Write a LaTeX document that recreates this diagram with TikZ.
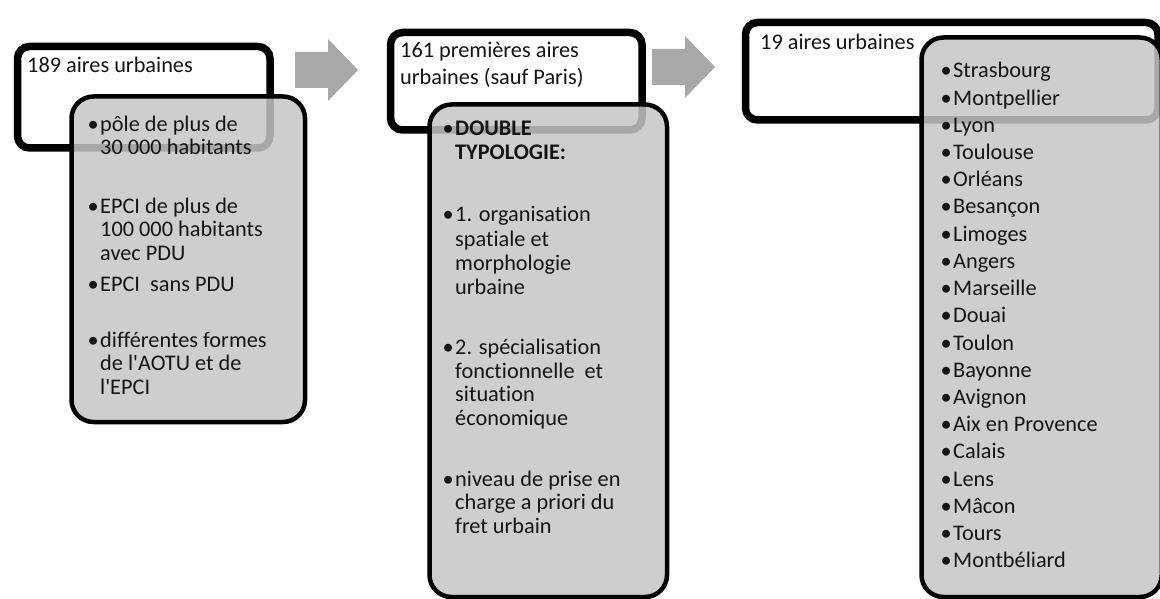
\documentclass[tikz,border=0pt]{standalone}
\usepackage{fontspec}
\setmainfont{Carlito}[Ligatures={TeXOff,NoCommon}]
\usetikzlibrary{shadows}
\definecolor{gfill}{RGB}{198,198,198}
\definecolor{afill}{RGB}{168,168,168}
\definecolor{txt}{RGB}{20,20,20}
\newcommand{\mybul}{\llap{•\hspace{1.5pt}}}
\begin{document}
\begin{tikzpicture}[x=1pt,y=-1pt,
  wbox/.style={draw=black, line width=7.5pt, fill=white, rounded corners=12pt,
    inner sep=0pt, anchor=north west,
    drop shadow={opacity=0.22, shadow xshift=2pt, shadow yshift=-3pt}},
  gbox/.style={draw=black, line width=4.5pt, fill=gfill, fill opacity=0.85,
    rounded corners=22pt, inner sep=0pt, anchor=north west},
  barrow/.style={fill=afill, draw=none},
  tline/.style={anchor=base west, inner sep=0pt, text=txt,
    font=\fontsize{22.3}{26}\selectfont}]
\useasboundingbox (0,0) rectangle (1160,599);
% boxes
\node[wbox, minimum width=252.5pt, minimum height=101.5pt] (w1) at (13.75,42.75) {};
\node[gbox, minimum width=233.5pt, minimum height=325.5pt] (g1) at (69.25,94.25) {};
\node[wbox, minimum width=251.5pt, minimum height=97.5pt] (w2) at (386.75,28.75) {};
\node[gbox, minimum width=237.5pt, minimum height=492.5pt] (g2) at (427.25,102.25) {};
\node[wbox, minimum width=412.5pt, minimum height=97.5pt] (w3) at (741.75,18.75) {};
\node[gbox, minimum width=240.25pt, minimum height=559.5pt] (g3) at (919.25,35.25) {};
% block arrows
\coordinate (a1) at (295,70);
\coordinate (a2) at (652,67);
\foreach \c in {a1,a2}
  \fill[barrow] (\c) ++(0,-18) -- ++(33,0) -- ++(0,-13) -- ++(30,31)
    -- ++(-30,31) -- ++(0,-13) -- ++(-33,0) -- cycle;
% titles
\node[tline] (h1) at (27,73) {189 aires urbaines};
\node[tline] (h2a) at (400,58) {161 premières aires};
\node[tline] (h2b) at (400,85) {urbaines (sauf Paris)};
\node[tline] (h3) at (760,50) {19 aires urbaines};
% grey box 1
\foreach \yy/\s [count=\i] in {
  131.5/{\mybul pôle de plus de},
  155/{30 000 habitants},
  213/{\mybul EPCI de plus de},
  236.5/{100 000 habitants},
  260/{avec PDU},
  291/{\mybul EPCI\ \ sans PDU},
  347/{\mybul différentes formes},
  370.5/{de l'AOTU et de},
  394/{l'EPCI}}
  \node[tline] (p1-\i) at (100,\yy) {\s};
% grey box 2
\foreach \yy/\s [count=\i] in {
  136/{\mybul\bfseries DOUBLE},
  160/{\bfseries TYPOLOGIE:},
  222/{\mybul 1. organisation},
  246/{spatiale et},
  270/{morphologie},
  294/{urbaine},
  354/{\mybul 2. spécialisation},
  378/{fonctionnelle\ \ et},
  401.5/{situation},
  425/{économique},
  486/{\mybul niveau de prise en},
  509.5/{charge a priori du},
  533/{fret urbain}}
  \node[tline] (p2-\i) at (455,\yy) {\s};
% grey box 3
\foreach \s [count=\i] in {Strasbourg, Montpellier, Lyon, Toulouse, Orléans,
  Besançon, Limoges, Angers, Marseille, Douai, Toulon, Bayonne, Avignon,
  Aix en Provence, Calais, Lens, Mâcon, Tours, Montbéliard}
  \node[tline] (p3-\i) at (953,{78+27.2*(\i-1)}) {\mybul \s};
\end{tikzpicture}
\end{document}
